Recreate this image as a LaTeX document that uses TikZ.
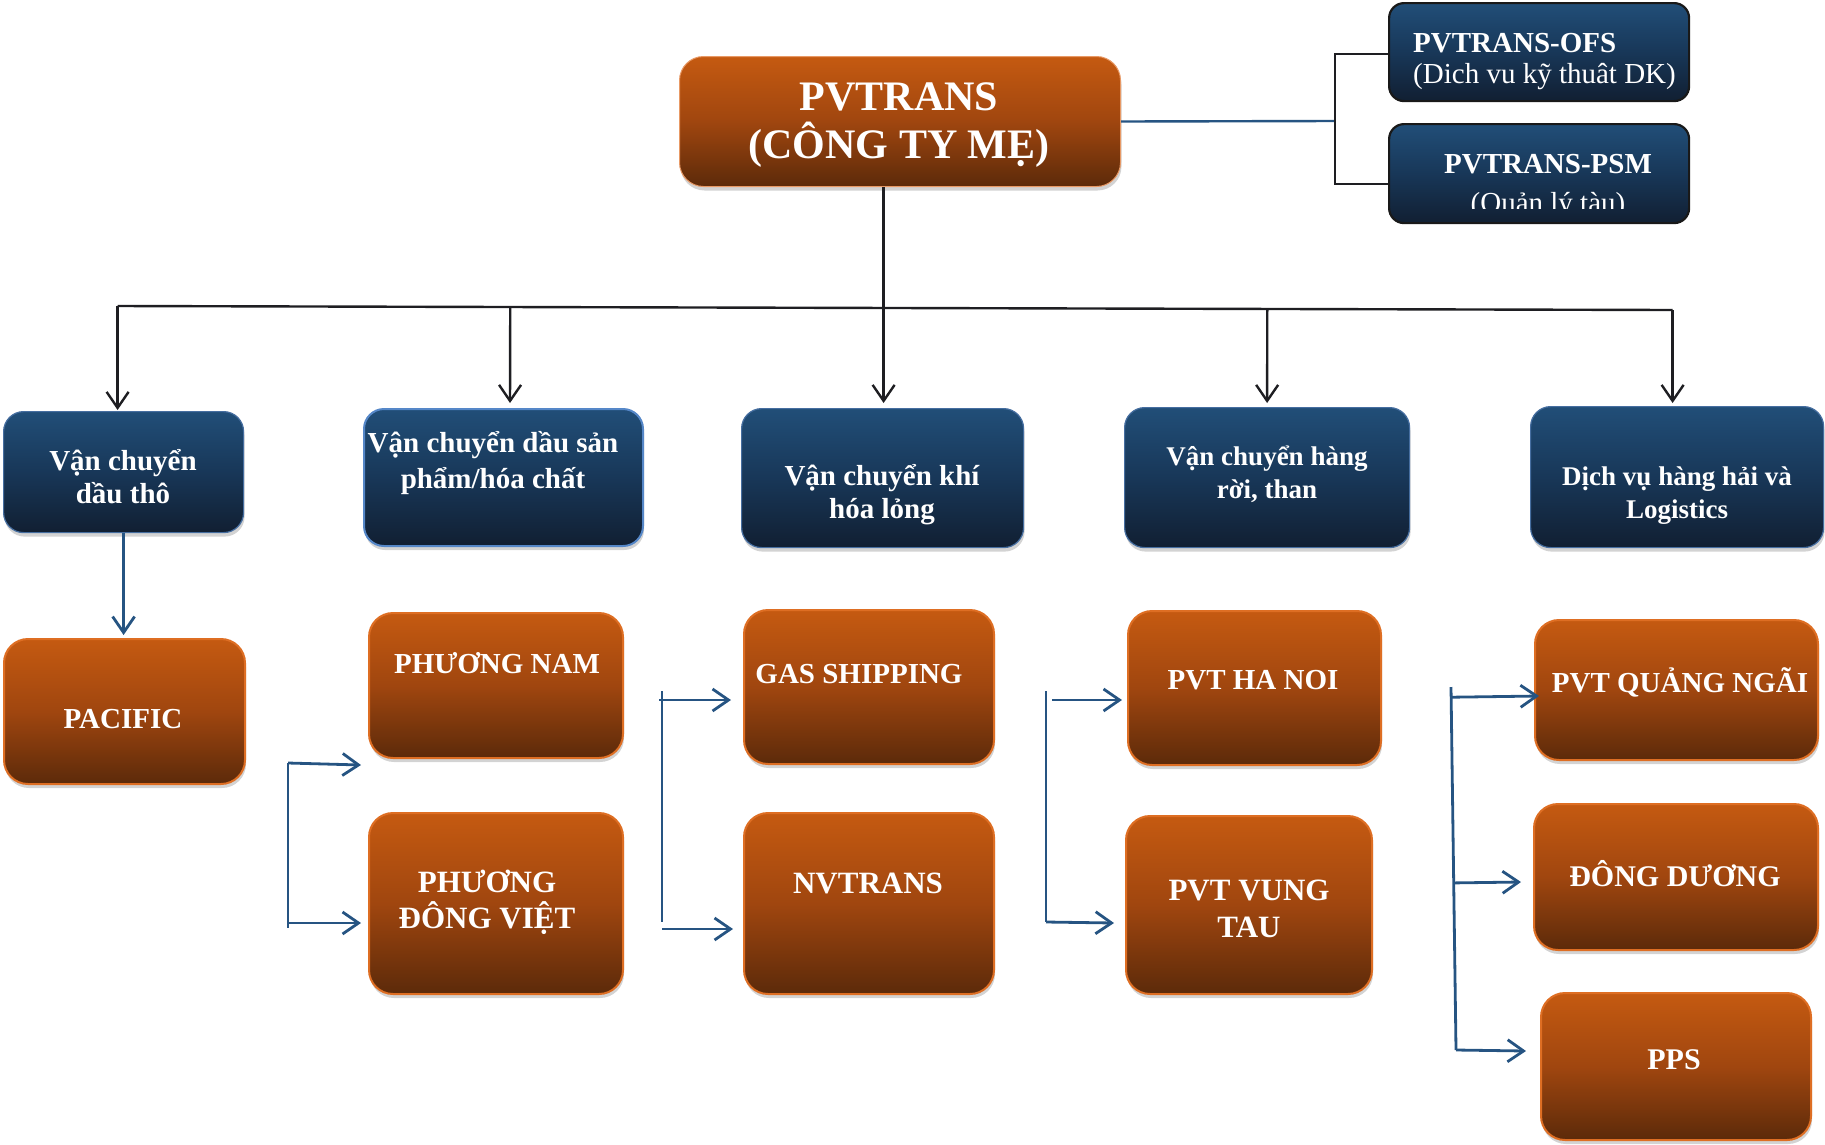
\documentclass[tikz,border=0pt]{standalone}
\usepackage{fontspec}
\setmainfont{Liberation Serif}
\usetikzlibrary{arrows.meta,shadows,calc}

\definecolor{ortop}{RGB}{197,90,17}
\definecolor{ormid}{RGB}{160,70,15}
\definecolor{orbot}{RGB}{92,42,10}
\definecolor{orline}{RGB}{222,110,35}
\definecolor{bltop}{RGB}{33,78,120}
\definecolor{blmid}{RGB}{24,55,88}
\definecolor{blbot}{RGB}{17,31,50}
\definecolor{blline}{RGB}{70,110,160}
\definecolor{blline2}{RGB}{85,135,200}
\definecolor{conblue}{RGB}{38,84,130}
\definecolor{conblack}{RGB}{30,30,34}

\newcommand\twolines[3][33pt]{\vtop{\lineskiplimit=-\maxdimen\baselineskip=#1\relax\halign{\hfil##\hfil\cr#2\cr#3\cr}}}

\tikzset{
  shad/.style={drop shadow={shadow xshift=1pt,shadow yshift=-4pt,opacity=0.35}},
  obox/.style={rectangle, rounded corners=24pt, draw=orline, line width=2pt,
    top color=ortop, bottom color=orbot, middle color=ormid,
    inner sep=0pt, anchor=north west, shad},
  bbox/.style={rectangle, rounded corners=20pt, draw=blline, line width=1.2pt,
    top color=bltop, bottom color=blbot, middle color=blmid,
    inner sep=0pt, anchor=north west, shad},
  kbox/.style={rectangle, rounded corners=15pt, draw=black!90, line width=2.2pt,
    top color=bltop, bottom color=blbot, middle color=blmid,
    inner sep=0pt, anchor=north west},
  lbl/.style={text=white, inner sep=0pt, anchor=base,
    font=\fontsize{29}{33}\selectfont\bfseries},
  tline/.style={draw=conblack, line width=2.4pt},
  tarrow/.style={tline, -{Straight Barb[length=16pt,width=22pt,line width=2.4pt]}},
  bline/.style={draw=conblue, line width=2.8pt},
  barrow/.style={bline, -{Straight Barb[length=16pt,width=22pt,line width=2.8pt]}},
}

\begin{document}
\begin{tikzpicture}[x=1pt,y=-1pt]
\useasboundingbox (0,0) rectangle (1825,1144);

% ---------- boxes ----------
\node[obox, draw=orline!70!white, line width=1pt, minimum width=441pt, minimum height=130pt] (main) at (679,56) {};
\node[kbox, minimum width=300pt, minimum height=98pt] (ofs) at (1388,2) {};
\node[kbox, minimum width=300pt, minimum height=99pt] (psm) at (1388,123) {};

\node[bbox, minimum width=240pt, minimum height=121pt] (cat1) at (3,411) {};
\node[bbox, draw=blline2, line width=2pt, minimum width=279pt, minimum height=137pt] (cat2) at (363,408) {};
\node[bbox, minimum width=282pt, minimum height=139pt] (cat3) at (741,408) {};
\node[bbox, minimum width=285pt, minimum height=140pt] (cat4) at (1124,407) {};
\node[bbox, minimum width=293pt, minimum height=141pt] (cat5) at (1530,406) {};

\node[obox, minimum width=241pt, minimum height=145pt] (pacific) at (3,638) {};
\node[obox, minimum width=254pt, minimum height=145pt] (pnam) at (368,612) {};
\node[obox, minimum width=254pt, minimum height=181pt] (pdv) at (368,812) {};
\node[obox, minimum width=250pt, minimum height=154pt] (gas) at (743,609) {};
\node[obox, minimum width=250pt, minimum height=181pt] (nvt) at (743,812) {};
\node[obox, minimum width=253pt, minimum height=154pt] (hanoi) at (1127,610) {};
\node[obox, minimum width=246pt, minimum height=178pt] (vtau) at (1125,815) {};
\node[obox, minimum width=283pt, minimum height=140pt] (pqn) at (1534,619) {};
\node[obox, minimum width=284pt, minimum height=146pt] (dd) at (1533,803) {};
\node[obox, minimum width=270pt, minimum height=147pt] (pps) at (1540,992) {};

% ---------- labels ----------
\node[lbl, font=\fontsize{42}{48}\selectfont\bfseries] (main-t) at (899,110) {\twolines[48pt]{PVTRANS}{(CÔNG TY MẸ)}};

\node[lbl, anchor=base west] (ofs-t1) at (1413,52) {PVTRANS-OFS};
\node[lbl, anchor=base west, font=\fontsize{29}{33}\selectfont] (ofs-t2) at (1413,83) {(Dich vu kỹ thuât DK)};
\node[lbl] (psm-t1) at (1548,173) {PVTRANS-PSM};
\begin{scope}
  \clip (1390,125) rectangle (1686,208);
  \node[lbl, font=\fontsize{29}{33}\selectfont] (psm-t2) at (1548,212) {(Quản lý tàu)};
\end{scope}

\node[lbl] (cat1-t) at (123,470) {\twolines{Vận chuyển}{dầu thô}};
\node[lbl] (cat2-t) at (493,452) {\twolines[36pt]{Vận chuyển dầu sản}{phẩm/hóa chất}};
\node[lbl] (cat3-t) at (882,485) {\twolines{Vận chuyển khí}{hóa lỏng}};
\node[lbl, font=\fontsize{27}{33}\selectfont\bfseries] (cat4-t) at (1267,465) {\twolines{Vận chuyển hàng}{rời, than}};
\node[lbl, font=\fontsize{27}{33}\selectfont\bfseries] (cat5-t) at (1677,485) {\twolines{Dịch vụ hàng hải và}{Logistics}};

\node[lbl] (pacific-t) at (123,728) {PACIFIC};
\node[lbl] (pnam-t) at (497,673) {PHƯƠNG NAM};
\node[lbl, font=\fontsize{31}{36}\selectfont\bfseries] (pdv-t) at (487,892) {\twolines[36pt]{PHƯƠNG}{ĐÔNG VIỆT}};
\node[lbl] (gas-t) at (859,683) {GAS SHIPPING};
\node[lbl, font=\fontsize{31}{36}\selectfont\bfseries] (nvt-t) at (868,893) {NVTRANS};
\node[lbl] (hanoi-t) at (1253,689) {PVT HA NOI};
\node[lbl, font=\fontsize{31}{36}\selectfont\bfseries] (vtau-t) at (1249,900) {\twolines[37pt]{PVT VUNG}{TAU}};
\node[lbl] (pqn-t) at (1680,692) {PVT QUẢNG NGÃI};
\node[lbl, font=\fontsize{30}{36}\selectfont\bfseries] (dd-t) at (1675,886) {ĐÔNG DƯƠNG};
\node[lbl, font=\fontsize{30}{36}\selectfont\bfseries] (pps-t) at (1674,1069) {PPS};

% ---------- top connectors ----------
\coordinate (t1) at ($(cat1.north)+(-6,0)$);
\coordinate (t2) at ($(cat2.north)+(6.5,0)$);
\coordinate (t3) at ($(cat3.north)+(1,0)$);
\coordinate (t4) at (cat4.north);
\coordinate (t5) at ($(cat5.north)+(-4.5,0)$);
\coordinate (busA) at (t1 |- 0,306);
\coordinate (busB) at (t5 |- 0,310);

\draw[tarrow, shorten >=5pt] (main.south -| t3) -- (t3);
\draw[tline] (busA) -- (busB);
\draw[tarrow, shorten >=1pt] (busA) -- (t1);
\draw[tarrow, shorten >=5pt] ($(busA)!(t2)!(busB)$) -- (t2);
\draw[tarrow, shorten >=4pt] ($(busA)!(t4)!(busB)$) -- (t4);
\draw[tarrow, shorten >=3pt] (busB) -- (t5);

% main to OFS / PSM
\coordinate (brk) at (1335,121);
\coordinate (o1) at ($(ofs.west)+(0,2)$);
\coordinate (p1) at ($(psm.west)+(0,10.5)$);
\draw[bline, line width=2.4pt] (main.east) -- (brk);
\draw[tline, line width=2.2pt] (o1) -| (brk) |- (p1);

% cat1 to pacific
\draw[barrow, line width=2.6pt, shorten >=3pt] (cat1.south) -- (cat1.south |- pacific.north);

% ---------- bracket 1 ----------
\coordinate (b1a) at ($(pnam.south west)+(-7,6)$);
\coordinate (b1b) at ($(pdv.west)+(-7,19.5)$);
\coordinate (v1t) at (288,763);
\coordinate (v1b) at (288,928);
\draw[bline] (v1t) -- (v1b);
\draw[barrow] (v1t) -- (b1a);
\draw[barrow] (v1t |- b1b) -- (b1b);

% ---------- bracket 2 ----------
\coordinate (b2a) at ($(gas.west)+(-12,13)$);
\coordinate (b2b) at ($(nvt.west)+(-10,25.5)$);
\coordinate (v2t) at (662,691);
\coordinate (v2b) at (662,922);
\draw[bline] (v2t) -- (v2b);
\draw[barrow] ($(v2t |- b2a)+(-3,0)$) -- (b2a);
\draw[barrow] (v2t |- b2b) -- (b2b);

% ---------- bracket 3 ----------
\coordinate (b3a) at ($(hanoi.west)+(-5,12)$);
\coordinate (b3b) at ($(vtau.west)+(-11,18)$);
\coordinate (v3t) at (1046,691);
\coordinate (v3b) at (1046,922);
\draw[bline] (v3t) -- (v3b);
\draw[barrow] ($(v3t |- b3a)+(6,0)$) -- (b3a);
\draw[barrow] (v3b) -- (b3b);

% ---------- bracket 4 ----------
\coordinate (b4a) at ($(pqn.west)+(5,6)$);
\coordinate (b4b) at ($(dd.west)+(-12,5)$);
\coordinate (b4c) at ($(pps.west)+(-14,-15.5)$);
\coordinate (v4t) at (1451,687);
\coordinate (v4b) at (1456,1050);
\draw[bline] (v4t) -- (v4b);
\draw[barrow] ($(v4t)!(b4a)!(v4b)$) -- (b4a);
\draw[barrow] ($(v4t)!(b4b)!(v4b)$) -- (b4b);
\draw[barrow] (v4b) -- (b4c);
\end{tikzpicture}
\end{document}
